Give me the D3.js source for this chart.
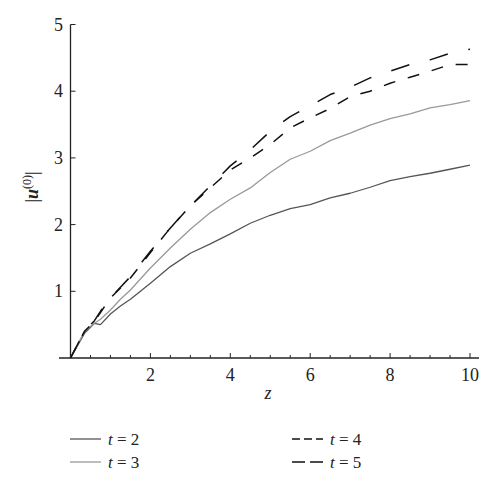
<!DOCTYPE html>
<html><head><meta charset="utf-8">
<script src="https://cdn.jsdelivr.net/npm/d3@7"></script>
<style>body{margin:0;background:#fff}svg{display:block}</style>
</head><body>
<svg id="c" width="500" height="488"></svg>
<script>
const zValues = [0, 0.35, 0.6, 0.75, 1, 1.25, 1.5, 2, 2.5, 3, 3.5, 4, 4.5, 5, 5.5, 6, 6.5, 7, 7.5, 8, 8.5, 9, 9.5, 10];
const t2 = [0, 0.37, 0.52, 0.50, 0.66, 0.78, 0.88, 1.12, 1.37, 1.57, 1.71, 1.86, 2.02, 2.14, 2.24, 2.30, 2.40, 2.47, 2.56, 2.66, 2.72, 2.77, 2.83, 2.89];
const t3 = [0, 0.40, 0.52, 0.58, 0.72, 0.88, 1.02, 1.35, 1.65, 1.93, 2.18, 2.38, 2.55, 2.78, 2.98, 3.10, 3.26, 3.37, 3.49, 3.59, 3.66, 3.75, 3.80, 3.86];
const t4 = [0, 0.40, 0.55, 0.68, 0.90, 1.05, 1.20, 1.58, 1.95, 2.28, 2.55, 2.82, 3.00, 3.20, 3.45, 3.60, 3.74, 3.92, 4.00, 4.12, 4.21, 4.30, 4.40, 4.40];
const t5 = [0, 0.40, 0.56, 0.70, 0.90, 1.06, 1.22, 1.60, 1.95, 2.28, 2.58, 2.88, 3.12, 3.40, 3.62, 3.78, 3.95, 4.06, 4.20, 4.30, 4.40, 4.47, 4.57, 4.63];
const seriesNames = ["t = 2", "t = 3", "t = 4", "t = 5"];
const xTicks = [2, 4, 6, 8, 10];
const yTicks = [1, 2, 3, 4, 5];

const styles = [
  {color:"#555", dash:null, legendDash:null, w:1.3},
  {color:"#999", dash:null, legendDash:null, w:1.3},
  {color:"#111", dash:"12,13", legendDash:"8,4", w:1.5},
  {color:"#111", dash:"19,21", legendDash:"13,5", w:1.5}
];
const series = [t2, t3, t4, t5];

const svg = d3.select("#c");
const font = "'Liberation Serif', 'Times New Roman', serif";
const x = d3.scaleLinear().domain([0, 10]).range([70.5, 470]);
const y = d3.scaleLinear().domain([0, 5]).range([358, 24.5]);

svg.append("line").attr("x1", 59).attr("x2", 479).attr("y1", y(0)).attr("y2", y(0)).attr("stroke", "#222").attr("stroke-width", 1.3);
svg.append("line").attr("x1", x(0)).attr("x2", x(0)).attr("y1", y(0)).attr("y2", y(5)).attr("stroke", "#222").attr("stroke-width", 1.3);

const minor = d3.range(0.5, 10.01, 0.5);
svg.selectAll(".xt").data(minor).enter().append("line")
  .attr("x1", d => x(d)).attr("x2", d => x(d))
  .attr("y1", y(0)).attr("y2", d => y(0) - (Number.isInteger(d / 2) ? 5 : 3))
  .attr("stroke", "#222").attr("stroke-width", 1);
svg.selectAll(".xl").data(xTicks).enter().append("text")
  .attr("x", d => x(d)).attr("y", 381).attr("text-anchor", "middle")
  .attr("font-family", font).attr("font-size", 18).attr("fill", "#222").text(d => d);

svg.selectAll(".yt").data(yTicks).enter().append("line")
  .attr("x1", x(0)).attr("x2", x(0) + 5).attr("y1", d => y(d)).attr("y2", d => y(d))
  .attr("stroke", "#222").attr("stroke-width", 1);
svg.selectAll(".yl").data(yTicks).enter().append("text")
  .attr("x", 63).attr("y", d => y(d) + 6).attr("text-anchor", "end")
  .attr("font-family", font).attr("font-size", 18).attr("fill", "#222").text(d => d);

svg.append("text").attr("x", 268).attr("y", 399).attr("text-anchor", "middle")
  .attr("font-family", font).attr("font-size", 18).attr("font-style", "italic").attr("fill", "#222").text("z");
const yt = svg.append("text").attr("transform", "translate(38,187) rotate(-90)").attr("text-anchor", "middle")
  .attr("font-family", font).attr("font-size", 18).attr("fill", "#222");
yt.append("tspan").text("|");
yt.append("tspan").attr("font-style", "italic").attr("font-weight", "bold").text("u");
yt.append("tspan").attr("font-size", 12).attr("dy", -7).text("(0)");
yt.append("tspan").attr("dy", 7).text("|");

const line = d3.line().x((d, i) => x(zValues[i])).y(d => y(d));
series.forEach((s, k) => {
  svg.append("path").datum(s).attr("d", line).attr("fill", "none")
    .attr("stroke", styles[k].color).attr("stroke-width", styles[k].w)
    .attr("stroke-dasharray", styles[k].dash).attr("stroke-linejoin", "round");
});

const legPos = [[70, 439], [70, 462], [292, 439], [292, 462]];
seriesNames.forEach((name, k) => {
  const [lx, ly] = legPos[k];
  svg.append("line").attr("x1", lx).attr("x2", lx + 31).attr("y1", ly).attr("y2", ly)
    .attr("stroke", styles[k].color).attr("stroke-width", styles[k].w)
    .attr("stroke-dasharray", styles[k].legendDash);
  const t = svg.append("text").attr("x", lx + 38).attr("y", ly + 6)
    .attr("font-family", font).attr("font-size", 17).attr("fill", "#222");
  const parts = name.split(" ");
  t.append("tspan").attr("font-style", "italic").text(parts[0]);
  t.append("tspan").text(" " + parts.slice(1).join(" "));
});
</script>
</body></html>
